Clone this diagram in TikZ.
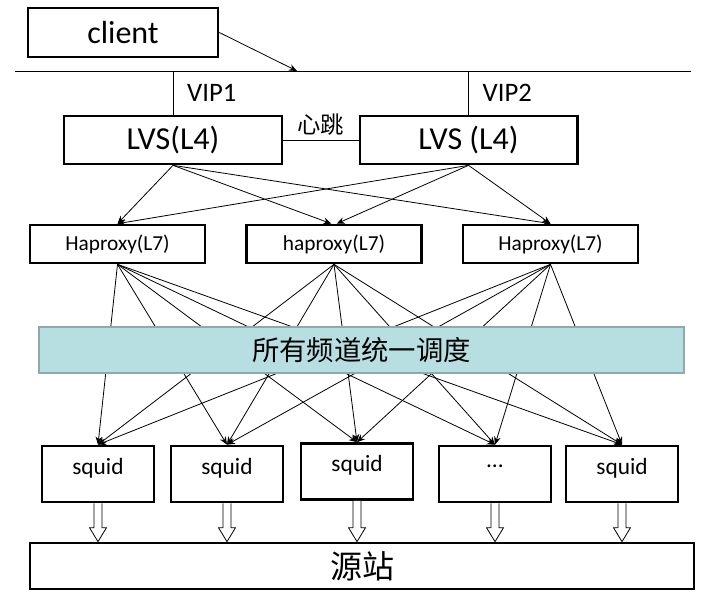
\documentclass[tikz,border=0pt]{standalone}
\usepackage{fontspec}
\setmainfont{Carlito}
\newfontfamily\cjk{Noto Sans CJK SC}
\usetikzlibrary{arrows.meta,positioning,calc}
\definecolor{schedfill}{HTML}{B7DFE2}
\definecolor{schedline}{HTML}{8FAAAB}
% hollow push arrow from a squid down to the origin box
\newcommand\pushdown[2]{%
 \draw[feed] ($(#1.south)+(-4,0)$) -- ($(#1.south |- #2.north)+(-4,-14)$) -- ($(#1.south |- #2.north)+(-8.5,-14)$)
  -- (#1.south |- #2.north) -- ($(#1.south |- #2.north)+(8.5,-14)$) -- ($(#1.south |- #2.north)+(4,-14)$) -- ($(#1.south)+(4,0)$);}

\begin{document}
\begin{tikzpicture}[x=0.75pt,y=-0.75pt,>={Stealth[length=6pt,width=5pt]},
 box/.style={draw,line width=2pt,inner sep=0pt},
 wire/.style={line width=0.6pt},
 feed/.style={line width=0.6pt,fill=white},
 big/.style={font=\fontsize{24}{28}\selectfont},
 vip/.style={font=\fontsize{20}{24}\selectfont},
 hp/.style={minimum width=131.25pt,minimum height=28.5pt,font=\fontsize{16}{19}\selectfont},
 squid/.style={minimum width=84pt,minimum height=42pt,text depth=12pt,font=\fontsize{17.5}{21}\selectfont}]
\useasboundingbox (0,0) rectangle (713,607);
\node[box,big,minimum width=142.5pt,minimum height=36.75pt](client) at (123,32.5){client};
\coordinate (busl) at (15,71);
\coordinate (busr) at (691,71);
\coordinate (tap) at (297,71);
\draw[wire](busl)--(busr);
\draw[wire,->](client.east)--(tap);
% LVS pair
\node[box,big,minimum width=163.5pt,minimum height=36pt](lvsa) at (173,140){LVS(L4)};
\node[box,big,minimum width=163pt,minimum height=36pt](lvsb) at (468.5,140){LVS (L4)};
\draw[wire](lvsa.north |- busl)--node[right=7pt,vip]{VIP1}(lvsa.north);
\draw[wire](lvsb.north |- busl)--node[right=7pt,vip]{VIP2}(lvsb.north);
\draw[wire](lvsa)--node[above,font=\cjk\fontsize{17.5}{21}\selectfont]{心跳}(lvsb);
% haproxy layer
\node[box,hp](hpa) at (117.5,244){Haproxy(L7)};
\node[box,hp](hpb) at (334,244){haproxy(L7)};
\node[box,hp](hpc) at (550.5,244){Haproxy(L7)};
\path[wire](lvsa.south) edge[->] (hpa.north) edge[->] ([xshift=-2pt]hpb.north) edge[->] (hpc.north);
\path[wire](lvsb.south) edge[->] (hpa.north) edge[->] ([xshift=2pt]hpb.north) edge[->] (hpc.north);
% squid layer
\node[box,squid](sqa) at (98,474){squid};
\node[box,squid](sqb) at (227,474){squid};
\node[box,squid](sqc) at (357,471.5){squid};
\node[box,squid](sqd) at (495,474){…};
\node[box,squid](sqe) at (622,474){squid};
\path[wire](hpa.south) edge[->] (sqa.north) edge[->] (sqb.north) edge[->] (sqc.north) edge[->] (sqd.north) edge[->] (sqe.north);
\path[wire](hpb.south) edge[->] (sqa.north) edge[->] (sqb.north) edge[->] (sqc.north) edge[->] (sqd.north) edge[->] (sqe.north);
\path[wire](hpc.south) edge[->] (sqa.north) edge[->] (sqb.north) edge[->] (sqc.north) edge[->] (sqd.north) edge[->] (sqe.north);
\node[draw=schedline,fill=schedfill,line width=1.8pt,minimum width=483.75pt,minimum height=34.5pt,
 font=\cjk\fontsize{20.5}{24}\selectfont](sched) at (361.5,350){所有频道统一调度};
% origin
\node[box,minimum width=498pt,minimum height=34.5pt,font=\cjk\fontsize{24}{28}\selectfont](src) at (362,566){源站};
\pushdown{sqa}{src}
\pushdown{sqb}{src}
\pushdown{sqc}{src}
\pushdown{sqd}{src}
\pushdown{sqe}{src}
\end{tikzpicture}
\end{document}
